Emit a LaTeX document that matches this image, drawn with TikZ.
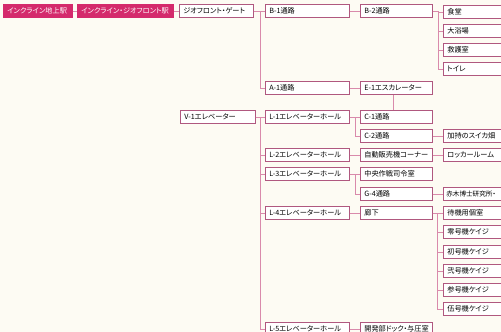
\documentclass[tikz,border=0pt]{standalone}
\usepackage{fontspec}
\newfontfamily\jp[RawFeature=+palt]{Noto Sans CJK JP}
\definecolor{bg}{HTML}{FDFBF3}
\definecolor{boxc}{HTML}{B0587F}
\definecolor{linec}{HTML}{D98AAB}
\definecolor{pinkf}{HTML}{D42A6C}
\tikzset{
  box/.style={draw=boxc, fill=white, line width=0.6pt, inner xsep=4pt, inner ysep=0pt,
    minimum height=13pt, anchor=west, font=\jp\fontsize{7.2}{8}\selectfont, align=left,
    text height=6pt, text depth=1.3pt},
  pbox/.style={box, draw=pinkf, fill=pinkf, text=white},
  c0/.style={text width=67pt},
  c1/.style={text width=76pt},
  c2/.style={text width=64pt},
  c3/.style={text width=60pt},
  conn/.style={draw=linec, line width=0.8pt}
}
\begin{document}
\begin{tikzpicture}[x=1pt,y=-1pt]
\fill[bg] (0,0) rectangle (501,332);
\useasboundingbox (0,0) rectangle (501,332);
% row 0
\node[pbox, text width=61pt] (s0) at (3,11) {インクライン地上駅};
\node[pbox, text width=88pt] (s1) at (77,11) {インクライン・ジオフロント駅};
\node[box, text width=66pt] (gate) at (179,11) {ジオフロント・ゲート};
\node[box, c0] (V1) at (180,117) {V-1エレベーター};
% column 1
\node[box, c1] (B1) at (265,11) {B-1通路};
\node[box, c1] (A1) at (265,88) {A-1通路};
\node[box, c1] (L1) at (265,117) {L-1エレベーターホール};
\node[box, c1] (L2) at (265,155) {L-2エレベーターホール};
\node[box, c1] (L3) at (265,174) {L-3エレベーターホール};
\node[box, c1] (L4) at (265,213) {L-4エレベーターホール};
\node[box, c1] (L5) at (265,329) {L-5エレベーターホール};
% column 2
\node[box, c2] (B2) at (360,11) {B-2通路};
\node[box, c2] (E1) at (360,88) {E-1エスカレーター};
\node[box, c2] (C1) at (360,117) {C-1通路};
\node[box, c2] (C2) at (360,136) {C-2通路};
\node[box, c2] (VM) at (360,155) {自動販売機コーナー};
\node[box, c2] (CC) at (360,174) {中央作戦司令室};
\node[box, c2] (G4) at (360,194) {G-4通路};
\node[box, c2] (RK) at (360,213) {廊下};
\node[box, c2] (DK) at (360,329) {開発部ドック・与圧室};
% column 3
\node[box, c3] (T1) at (443,12) {食堂};
\node[box, c3] (T2) at (443,31) {大浴場};
\node[box, c3] (T3) at (443,50) {救護室};
\node[box, c3] (T4) at (443,69) {トイレ};
\node[box, c3] (KJ) at (443,136) {加持のスイカ畑};
\node[box, c3] (LR) at (443,155) {ロッカールーム};
\node[box, c3, inner xsep=3pt, text width=62pt, font=\jp\fontsize{6.6}{8}\selectfont] (AK) at (443,194) {赤木博士研究所・};
\node[box, c3] (W0) at (443,213) {待機用個室};
\node[box, c3] (W1) at (443,232) {零号機ケイジ};
\node[box, c3] (W2) at (443,252) {初号機ケイジ};
\node[box, c3] (W3) at (443,271) {弐号機ケイジ};
\node[box, c3] (W4) at (443,290) {参号機ケイジ};
\node[box, c3] (W5) at (443,309) {伍号機ケイジ};
% connectors
\draw[conn] (s0.east) -- (s1.west);
\draw[conn] (s1.east) -- (gate.west);
\draw[conn] (gate.east) -- (B1.west);
\draw[conn] (gate.east) -- ++(7,0) |- (A1.west);
\draw[conn] (V1.east) -- (L1.west);
\draw[conn] (V1.east) -- ++(5,0) |- (L2.west);
\draw[conn] (V1.east) -- ++(5,0) |- (L3.west);
\draw[conn] (V1.east) -- ++(5,0) |- (L4.west);
\draw[conn] (V1.east) -- ++(5,0) |- (L5.west);
\draw[conn] (B1.east) -- (B2.west);
\draw[conn] (A1.east) -- (E1.west);
\draw[conn] ([xshift=-3pt]E1.south) -- ([xshift=-3pt]C1.north);
\draw[conn] (L1.east) -- (C1.west);
\draw[conn] (L1.east) -- ++(6,0) |- (C2.west);
\draw[conn] (L2.east) -- (VM.west);
\draw[conn] (L3.east) -- (CC.west);
\draw[conn] (L3.east) -- ++(6,0) |- (G4.west);
\draw[conn] (L4.east) -- (RK.west);
\draw[conn] (L5.east) -- (DK.west);
\draw[conn] (B2.east) -- ++(6,0) |- (T1.west);
\draw[conn] (B2.east) -- ++(6,0) |- (T2.west);
\draw[conn] (B2.east) -- ++(6,0) |- (T3.west);
\draw[conn] (B2.east) -- ++(6,0) |- (T4.west);
\draw[conn] (C2.east) -- (KJ.west);
\draw[conn] (VM.east) -- (LR.west);
\draw[conn] (G4.east) -- (AK.west);
\draw[conn] (RK.east) -- (W0.west);
\draw[conn] (RK.east) -- ++(5,0) |- (W1.west);
\draw[conn] (RK.east) -- ++(5,0) |- (W2.west);
\draw[conn] (RK.east) -- ++(5,0) |- (W3.west);
\draw[conn] (RK.east) -- ++(5,0) |- (W4.west);
\draw[conn] (RK.east) -- ++(5,0) |- (W5.west);
\end{tikzpicture}
\end{document}
